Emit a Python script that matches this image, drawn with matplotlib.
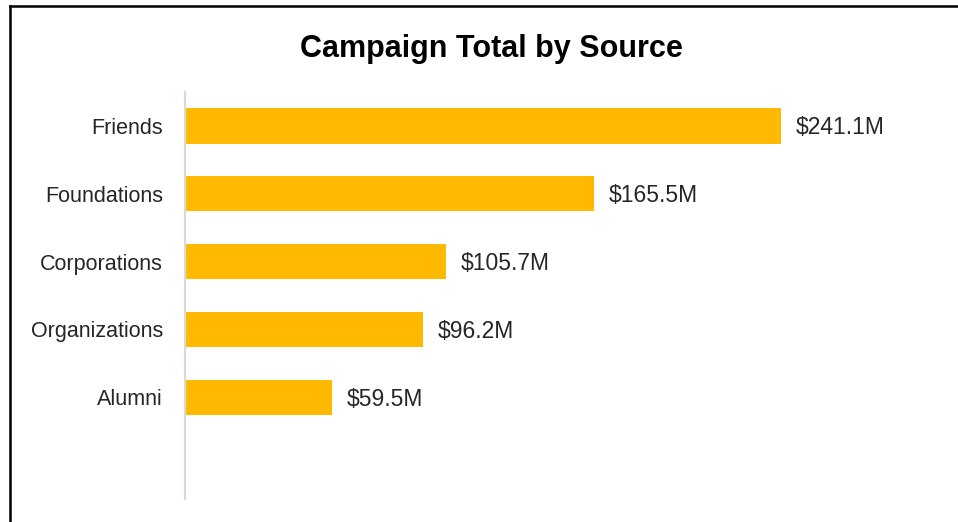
import matplotlib
matplotlib.use("Agg")
import matplotlib.pyplot as plt
from matplotlib.lines import Line2D

sources = ["Friends", "Foundations", "Corporations", "Organizations", "Alumni"]
totals = [241.1, 165.5, 105.7, 96.2, 59.5]  # $M

plt.rcParams["font.family"] = ["Liberation Sans", "DejaVu Sans"]

W, H = 958, 522
fig = plt.figure(figsize=(W / 100, H / 100), dpi=100)
fig.patch.set_facecolor("white")

ax = fig.add_axes([185 / W, 23 / H, 742 / W, 407 / H])
pos = list(range(len(sources)))
bars = ax.barh(pos, totals, height=0.52, color="#FFB900")

# one empty slot is left under the last bar
ax.set_ylim(len(sources) + 0.5, -0.5)
ax.set_xlim(0, 300)
ax.set_yticks(pos)
ax.set_yticklabels(sources, fontsize=15.5, color="#262626")
ax.tick_params(axis="y", length=0, pad=16)
ax.set_xticks([])

for side in ["top", "right", "bottom"]:
    ax.spines[side].set_visible(False)
ax.spines["left"].set_color("#d9d9d9")
ax.spines["left"].set_linewidth(1.6)

for b, v in zip(bars, totals):
    ax.annotate(f"${v}M", (v, b.get_y() + b.get_height() / 2),
                xytext=(10.5, -1.5), textcoords="offset points",
                va="center", ha="left", fontsize=16.5, color="#262626")

fig.text(491 / W, 1 - 49 / H, "Campaign Total by Source",
         ha="center", va="center", fontsize=22, fontweight="bold", color="black")

# black frame running off the right and bottom edges
x0, y0 = 10 / W, 1 - 5.5 / H
fig.add_artist(Line2D([x0, x0], [-0.1, y0], transform=fig.transFigure,
                      color="black", lw=1.8))
fig.add_artist(Line2D([x0, 1.1], [y0, y0], transform=fig.transFigure,
                      color="black", lw=1.8))

fig.savefig("out.png", dpi=100)
